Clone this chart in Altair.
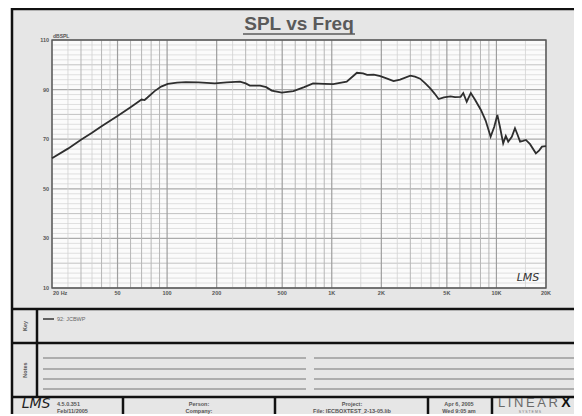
import altair as alt
import pandas as pd

# ---- data ----
freq = [20, 25, 30, 35, 40, 50, 60, 70, 73, 76, 84, 92, 101, 115, 130, 155, 195, 230,
        277, 300, 318, 367, 400, 432, 497, 585, 680, 770, 900, 1020, 1232, 1350, 1421,
        1550, 1639, 1800, 1971, 2150, 2374, 2600, 3000, 3200, 3440, 3700, 3964, 4200,
        4457, 4800, 5260, 5600, 6060, 6290, 6600, 6990, 7400, 8050, 8600, 9220, 9700,
        10130, 10500, 10990, 11400, 11790, 12400, 12960, 13400, 13920, 14500, 15100,
        16000, 17360, 18200, 18900, 20000]
spl = [62.3, 66.2, 69.8, 72.6, 75.2, 79.4, 82.9, 86.0, 85.8, 86.8, 89.4, 91.2, 92.3,
       92.8, 93.0, 92.9, 92.5, 92.9, 93.2, 92.5, 91.6, 91.6, 91.0, 89.6, 88.8, 89.4,
       91.0, 92.5, 92.3, 92.2, 93.2, 95.5, 96.8, 96.5, 95.9, 96.0, 95.4, 94.5, 93.4,
       94.0, 95.6, 95.2, 94.4, 92.5, 90.5, 88.5, 86.2, 86.9, 87.3, 87.0, 87.1, 88.6,
       85.1, 88.6, 86.0, 81.8, 77.5, 71.0, 75.0, 79.8, 75.0, 68.3, 71.3, 69.0, 71.0,
       74.4, 72.0, 69.0, 69.3, 69.7, 68.0, 64.3, 65.5, 67.0, 67.2]

x_tick_values = [50, 100, 200, 500, 1000, 2000, 5000, 10000, 20000]
x_tick_labels = ["50", "100", "200", "500", "1K", "2K", "5K", "10K", "20K"]
x_first_value = [20]
x_first_label = ["20  Hz"]
y_tick_values = [10, 30, 50, 70, 90, 110]
y_tick_labels = ["10", "30", "50", "70", "90", "110"]

title_text = "SPL vs Freq"
unit_text = "dBSPL"
legend_text = "92: JCBWP"
footer_version = ["4.5.0.351", "Feb/11/2005"]
footer_person = ["Person:", "Company:"]
footer_project = ["Project:", "File: IECBOXTEST_2-13-05.lib"]
footer_date = ["Apr 6, 2005", "Wed 9:05 am"]

# grid values (scale units)
decades = [10, 100, 1000, 10000]
grid_major = [m * d for d in decades for m in (1, 2, 5) if 20 <= m * d <= 20000]
grid_minor = [m * d for d in decades for m in (3, 4, 6, 7, 8, 9) if 20 <= m * d <= 20000]
grid_half = [m * d for d in decades for m in (1.5, 2.5, 3.5, 4.5) if 20 <= m * d <= 20000]
ygrid_label = y_tick_values
ygrid_mid = [20, 40, 60, 80, 100]
ygrid_minor = [v for v in range(12, 110, 2) if v % 10 != 0]

W, H = 494, 248
xscale = alt.Scale(type="log", domain=[20, 20000], nice=False)
yscale = alt.Scale(domain=[10, 110], nice=False, zero=False)
one = pd.DataFrame({"a": [0]})
FONT = "Liberation Sans"


def vgrid(vals, color, w):
    return alt.Chart(pd.DataFrame({"f": vals})).mark_rule(color=color, strokeWidth=w).encode(
        x=alt.X("f:Q", scale=xscale, axis=None))


def hgrid(vals, color, w):
    return alt.Chart(pd.DataFrame({"v": vals})).mark_rule(color=color, strokeWidth=w).encode(
        y=alt.Y("v:Q", scale=yscale, axis=None))


def hrule(y, x1, x2, color="#111111", w=2.5):
    return alt.Chart(one).mark_rule(color=color, strokeWidth=w).encode(
        x=alt.value(x1), x2=alt.value(x2), y=alt.value(y))


def vrule(x, y1, y2, color="#111111", w=2.5):
    return alt.Chart(one).mark_rule(color=color, strokeWidth=w).encode(
        x=alt.value(x), y=alt.value(y1), y2=alt.value(y2))


def label(txt, x, y, size=5.5, align="center", color="#555555", weight="bold",
          font=FONT, angle=0, style="normal", baseline="middle"):
    return alt.Chart(one).mark_text(
        text=txt, fontSize=size, align=align, baseline=baseline, color=color,
        fontWeight=weight, font=font, angle=angle, fontStyle=style).encode(
        x=alt.value(x), y=alt.value(y))


frame = alt.Chart(one).mark_rect(fill="#e6e6e6", stroke="#111111", strokeWidth=2.5).encode(
    x=alt.value(-40), x2=alt.value(560), y=alt.value(-31), y2=alt.value(420))
plot_bg = alt.Chart(one).mark_rect(fill="#fbfbfb").encode(
    x=alt.value(0), x2=alt.value(W), y=alt.value(0), y2=alt.value(H))
plot_border = alt.Chart(one).mark_rect(fill=None, stroke="#555555", strokeWidth=1.3).encode(
    x=alt.value(0), x2=alt.value(W), y=alt.value(0), y2=alt.value(H))

curve = alt.Chart(pd.DataFrame({"f": freq, "spl": spl})).mark_line(
    color="#2e2e2e", strokeWidth=1.8).encode(
    x=alt.X("f:Q", scale=xscale, axis=None),
    y=alt.Y("spl:Q", scale=yscale, axis=None))

xlab = alt.Chart(pd.DataFrame({"f": x_tick_values, "t": x_tick_labels})).mark_text(
    fontSize=5.5, fontWeight="bold", color="#555555", font=FONT, baseline="top").encode(
    x=alt.X("f:Q", scale=xscale, axis=None), y=alt.value(H + 3), text="t:N")
xlab0 = alt.Chart(pd.DataFrame({"f": x_first_value, "t": x_first_label})).mark_text(
    fontSize=5.5, fontWeight="bold", color="#555555", font=FONT, baseline="top",
    align="left", dx=1).encode(
    x=alt.X("f:Q", scale=xscale, axis=None), y=alt.value(H + 3), text="t:N")
ylab = alt.Chart(pd.DataFrame({"v": y_tick_values, "t": y_tick_labels})).mark_text(
    fontSize=5.5, fontWeight="bold", color="#555555", font=FONT, align="right", dx=-3).encode(
    y=alt.Y("v:Q", scale=yscale, axis=None), x=alt.value(0), text="t:N")

layers = [
    frame, plot_bg,
    hgrid(ygrid_minor, "#d8d8d8", 0.8), hgrid(ygrid_mid, "#c2c2c2", 1.0),
    hgrid(ygrid_label, "#ababab", 1.2),
    vgrid(grid_half, "#d2d2d2", 0.8), vgrid(grid_minor, "#b6b6b6", 1.0),
    vgrid(grid_major, "#9e9e9e", 1.2),
    plot_border, curve, xlab, xlab0, ylab,
    label(title_text, 247, -16, size=19, color="#5a5a5a", font=FONT),
    hrule(-6, 191, 303, color="#5a5a5a", w=1.6),
    label(unit_text, 1, -4, size=5, align="left"),
    label("LMS", 476, 238, size=11, color="#333333", weight="normal", style="italic",
          font="DejaVu Sans"),
    # separators
    hrule(269, -40, 560), hrule(303, -40, 560), hrule(357, -40, 560),
    vrule(-15, 269, 357),
    vrule(71, 357, 420), vrule(223, 357, 420), vrule(376, 357, 420), vrule(440, 357, 420),
    # key
    label("Key", -27, 286, size=5.5, angle=270),
    hrule(279, -9, 2, color="#333333", w=1.5),
    label(legend_text, 5, 279, size=5.5, align="left", weight="normal", color="#666666"),
    # notes
    label("Notes", -27, 330, size=5.5, angle=270),
]
for yy in (318, 329, 339, 349):
    layers.append(hrule(yy, -9, 254, color="#9a9a9a", w=1.3))
    layers.append(hrule(yy, 262, 540, color="#9a9a9a", w=1.3))

layers += [
    label("LMS", -16, 364, size=14, color="#222222", weight="normal", style="italic",
          font="DejaVu Sans"),
    label(footer_version[0], 5, 364, size=5.5, align="left"),
    label(footer_version[1], 5, 371, size=5.5, align="left"),
    label(footer_person[0], 147, 364), label(footer_person[1], 147, 371),
    label(footer_project[0], 300, 364), label(footer_project[1], 300, 371),
    label(footer_date[0], 407, 364), label(footer_date[1], 407, 371),
    label("L\u2009I\u2009N\u2009E\u2009A\u2009R", 476, 363, size=13, weight="normal",
          color="#6a6a6a"),
    label("X", 514, 363, size=14, weight="bold", color="#111111"),
    label("S  Y  S  T  E  M  S", 478, 372, size=3.5, weight="normal", color="#777777"),
]

chart = alt.layer(*layers).properties(
    width=W, height=H,
    padding={"left": 44, "top": 32, "right": 28, "bottom": 126},
    autosize=alt.AutoSizeParams(type="none"),
    background="white",
).configure_view(stroke=None)

chart.save("out.html", embed_options={"renderer": "svg", "actions": False})
